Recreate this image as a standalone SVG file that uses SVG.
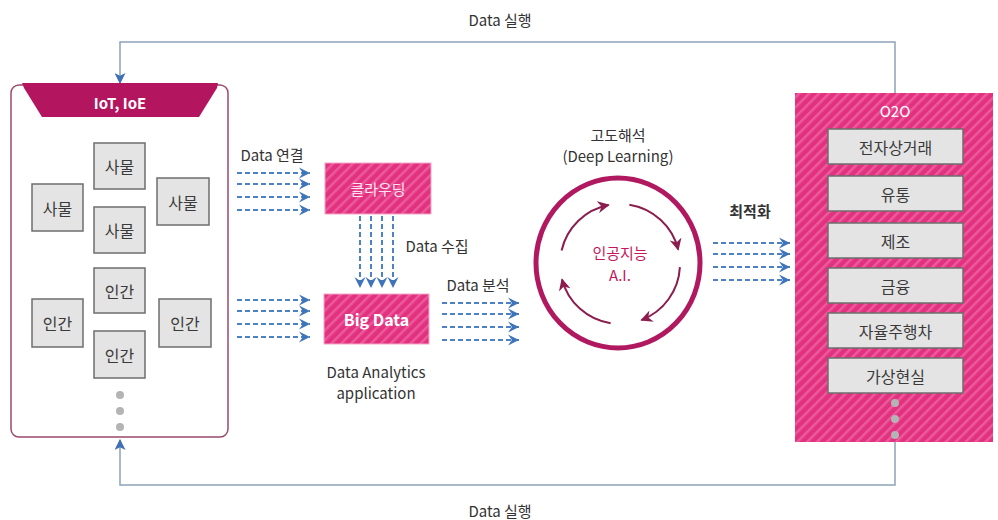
<svg xmlns="http://www.w3.org/2000/svg" width="998" height="520" viewBox="0 0 998 520">
  <defs>
    <style>
      text { font-family: "Noto Sans CJK KR", "Noto Sans", sans-serif; dominant-baseline: central; text-anchor: middle; }
      .lbl { font-size: 15px; fill: #333333; }
      .box-lbl { font-size: 16px; fill: #3a3a3a; }
      .gray { fill: #e4e4e4; stroke: #6e6e6e; stroke-width: 1.5; }
      .white { fill: #ffffff; }
      .dash { stroke: #4c82c4; stroke-width: 2; stroke-dasharray: 5 3; fill: none; marker-end: url(#chev); }
      .loop { stroke: #8fa3b8; stroke-width: 1.5; fill: none; }
      .cyc { stroke: #8c1d4f; stroke-width: 2; fill: none; marker-end: url(#cycHead); }
      .dot { fill: #b4b4b4; }
    </style>
    <pattern id="hatch" width="7" height="7" patternUnits="userSpaceOnUse" patternTransform="rotate(45)">
      <rect width="7" height="7" fill="#e2327f"/>
      <rect width="2.5" height="7" fill="#ec5a9c"/>
    </pattern>
    <marker id="chev" viewBox="0 0 10 10" markerWidth="11" markerHeight="12" refX="10" refY="5" orient="auto" markerUnits="userSpaceOnUse">
      <path d="M0,0 L10,5 L0,10 L3.5,5 Z" fill="#3f74b8"/>
    </marker>
    <marker id="cycHead" viewBox="0 0 10 10" markerWidth="12" markerHeight="12" refX="9" refY="5" orient="auto" markerUnits="userSpaceOnUse">
      <path d="M0,0 L10,5 L0,10 L3,5 Z" fill="#8c1d4f"/>
    </marker>
    <marker id="loopHead" viewBox="0 0 10 10" markerWidth="11" markerHeight="11" refX="9" refY="5" orient="auto" markerUnits="userSpaceOnUse">
      <path d="M0,0 L10,5 L0,10 L2.5,5 Z" fill="#3f6fb5"/>
    </marker>
  </defs>

  <rect width="998" height="520" fill="#ffffff"/>

  <!-- feedback loops between O2O and IoT, plus data-flow arrows -->
  <g id="connectors">
    <path class="loop" d="M895,93 V42 H120 V83" marker-end="url(#loopHead)"/>
    <path class="loop" d="M895,442 V485 H120 V440" marker-end="url(#loopHead)"/>
    <text class="lbl" x="500" y="19">Data 실행</text>
    <text class="lbl" x="500" y="510">Data 실행</text>

    <!-- Data 연결 -->
    <text class="lbl" x="272" y="154">Data 연결</text>
    <line class="dash" x1="237" y1="173" x2="310" y2="173"/>
    <line class="dash" x1="237" y1="184" x2="310" y2="184"/>
    <line class="dash" x1="237" y1="197" x2="310" y2="197"/>
    <line class="dash" x1="237" y1="210" x2="310" y2="210"/>

    <!-- into Big Data -->
    <line class="dash" x1="237" y1="300" x2="310" y2="300"/>
    <line class="dash" x1="237" y1="311" x2="310" y2="311"/>
    <line class="dash" x1="237" y1="324" x2="310" y2="324"/>
    <line class="dash" x1="237" y1="337" x2="310" y2="337"/>

    <!-- Data 수집 -->
    <line class="dash" x1="360" y1="216" x2="360" y2="288"/>
    <line class="dash" x1="371" y1="216" x2="371" y2="288"/>
    <line class="dash" x1="382" y1="216" x2="382" y2="288"/>
    <line class="dash" x1="393" y1="216" x2="393" y2="288"/>
    <text class="lbl" x="437" y="245">Data 수집</text>

    <!-- Data 분석 -->
    <text class="lbl" x="478" y="284">Data 분석</text>
    <line class="dash" x1="442" y1="303" x2="519" y2="303"/>
    <line class="dash" x1="442" y1="314" x2="519" y2="314"/>
    <line class="dash" x1="442" y1="327" x2="519" y2="327"/>
    <line class="dash" x1="442" y1="340" x2="519" y2="340"/>

    <!-- 최적화 -->
    <text class="lbl" x="750" y="210" font-weight="bold">최적화</text>
    <line class="dash" x1="713" y1="243" x2="790" y2="243"/>
    <line class="dash" x1="713" y1="254" x2="790" y2="254"/>
    <line class="dash" x1="713" y1="267" x2="790" y2="267"/>
    <line class="dash" x1="713" y1="280" x2="790" y2="280"/>
  </g>

  <!-- IoT / IoE panel -->
  <g id="iot">
    <rect x="11" y="85" width="217" height="352" rx="8" fill="#ffffff" stroke="#9a4a6c" stroke-width="1.5"/>
    <polygon points="22,83 218,83 217,88 199,117 42,117 24,88" fill="#b3165f"/>
    <text x="120" y="102" font-size="15" font-weight="bold" class="white">IoT, IoE</text>
  </g>
  <g id="thing-1"><rect class="gray" x="94" y="143" width="51" height="46"/><text class="box-lbl" x="119.5" y="166">사물</text></g>
  <g id="thing-2"><rect class="gray" x="32" y="184" width="51" height="47"/><text class="box-lbl" x="57.5" y="207.5">사물</text></g>
  <g id="thing-3"><rect class="gray" x="94" y="207" width="51" height="46"/><text class="box-lbl" x="119.5" y="230">사물</text></g>
  <g id="thing-4"><rect class="gray" x="157" y="178" width="52" height="47"/><text class="box-lbl" x="183" y="201.5">사물</text></g>
  <g id="human-1"><rect class="gray" x="94" y="268" width="51" height="45"/><text class="box-lbl" x="119.5" y="290.5">인간</text></g>
  <g id="human-2"><rect class="gray" x="32" y="299" width="51" height="48"/><text class="box-lbl" x="57.5" y="323">인간</text></g>
  <g id="human-3"><rect class="gray" x="159" y="299" width="52" height="48"/><text class="box-lbl" x="185" y="323">인간</text></g>
  <g id="human-4"><rect class="gray" x="94" y="331" width="51" height="47"/><text class="box-lbl" x="119.5" y="354.5">인간</text></g>
  <g id="iot-more">
    <circle class="dot" cx="120" cy="395" r="4"/>
    <circle class="dot" cx="120" cy="411" r="4"/>
    <circle class="dot" cx="120" cy="427" r="4"/>
  </g>

  <!-- cloud and big data -->
  <g id="clouding">
    <rect x="325" y="163" width="106" height="51" fill="url(#hatch)" stroke="#f3a6c8" stroke-width="1"/>
    <text x="378" y="188.5" font-size="15" fill="#ffe3f0">클라우딩</text>
  </g>
  <g id="bigdata">
    <rect x="324" y="294" width="105" height="50" fill="url(#hatch)" stroke="#f3a6c8" stroke-width="1"/>
    <text x="376.5" y="319" font-size="16" font-weight="bold" class="white">Big Data</text>
  </g>
  <g id="analytics-label">
    <text class="lbl" x="376" y="371">Data Analytics</text>
    <text class="lbl" x="376" y="392">application</text>
  </g>

  <!-- AI cycle -->
  <g id="ai">
    <text class="lbl" x="618" y="134">고도해석</text>
    <text class="lbl" x="618" y="155">(Deep Learning)</text>
    <ellipse cx="618" cy="263" rx="82" ry="85" fill="none" stroke="#b0195f" stroke-width="5"/>
    <path class="cyc" d="M561.6,250.5 A60,60 0 0 1 608.6,205.1"/>
    <path class="cyc" d="M629.4,204.7 A60,60 0 0 1 678.2,249.5"/>
    <path class="cyc" d="M679.9,267.1 A60,60 0 0 1 641.5,320.0"/>
    <path class="cyc" d="M610.6,323.3 A60,60 0 0 1 562.0,279.5"/>
    <text x="620" y="252" font-size="15" fill="#c2185b">인공지능</text>
    <text x="620" y="274" font-size="15" fill="#c2185b">A.I.</text>
  </g>

  <!-- O2O panel -->
  <g id="o2o">
    <rect x="795" y="93" width="198" height="349" fill="url(#hatch)"/>
    <text x="895" y="110" font-size="15" class="white">O2O</text>
  </g>
  <g id="o2o-commerce"><rect class="gray" x="828" y="129" width="135" height="35"/><text class="box-lbl" x="895.5" y="146.5">전자상거래</text></g>
  <g id="o2o-distribution"><rect class="gray" x="828" y="176" width="135" height="35"/><text class="box-lbl" x="895.5" y="193.5">유통</text></g>
  <g id="o2o-manufacturing"><rect class="gray" x="828" y="223" width="135" height="35"/><text class="box-lbl" x="895.5" y="240.5">제조</text></g>
  <g id="o2o-finance"><rect class="gray" x="828" y="268" width="135" height="35"/><text class="box-lbl" x="895.5" y="285.5">금융</text></g>
  <g id="o2o-autonomous"><rect class="gray" x="828" y="313" width="135" height="35"/><text class="box-lbl" x="895.5" y="330.5">자율주행차</text></g>
  <g id="o2o-vr"><rect class="gray" x="828" y="358" width="135" height="35"/><text class="box-lbl" x="895.5" y="375.5">가상현실</text></g>
  <g id="o2o-more">
    <circle class="dot" cx="895" cy="403" r="4"/>
    <circle class="dot" cx="895" cy="419" r="4"/>
    <circle class="dot" cx="895" cy="435" r="4"/>
  </g>
</svg>
